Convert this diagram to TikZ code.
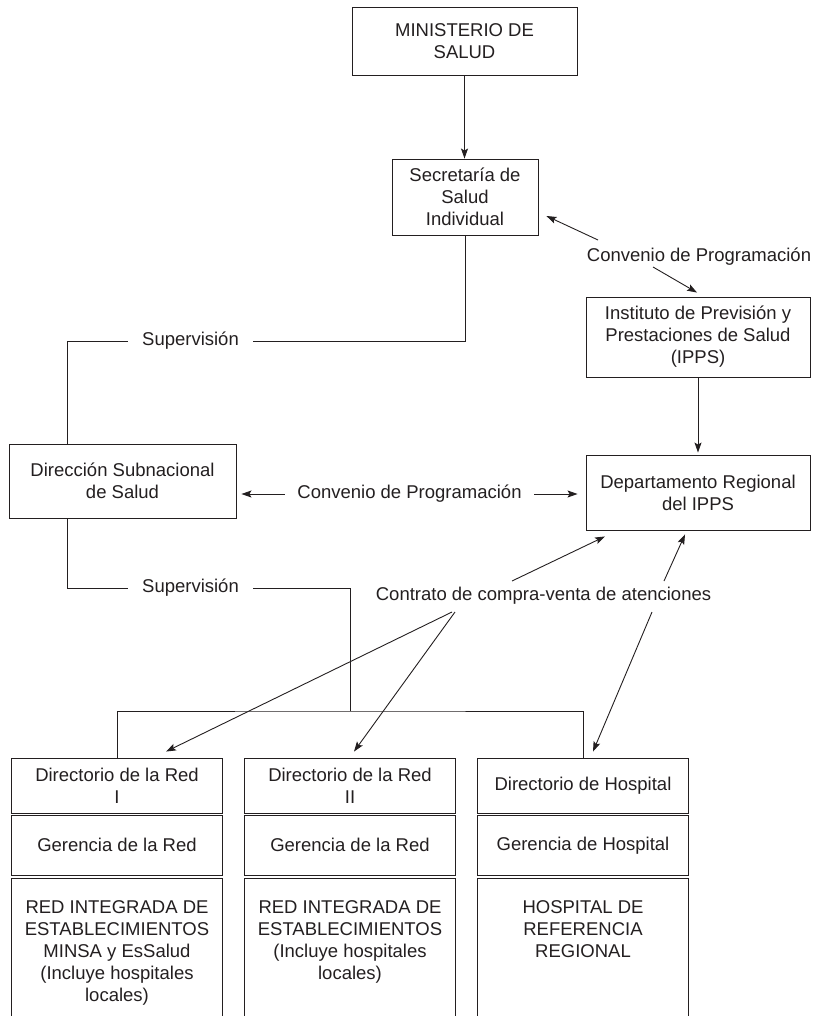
\documentclass[tikz,border=0pt]{standalone}
\usepackage{fontspec}
\setmainfont{Liberation Sans}
\usetikzlibrary{arrows.meta,calc}
\definecolor{ink}{HTML}{231F20}

\begin{document}
\begin{tikzpicture}[x=1pt, y=-1pt, ink, line width=0.9pt,
    font=\fontsize{18.5}{22}\selectfont,
    box/.style={draw, align=center, inner sep=0pt},
    lbl/.style={align=center, inner sep=0pt},
    arr/.style={-{Stealth[length=10pt, width=7pt, inset=2pt]}}]
    \useasboundingbox (0,0) rectangle (812,1016);
    \clip (0,0) rectangle (812,1016);

    \node[box, minimum width=225pt, minimum height=68pt] (min) at (464.5,41) {MINISTERIO DE\\SALUD};
    \node[box, minimum width=146pt, minimum height=76pt] (sec) at (465,197) {Secretaría de\\Salud\\Individual};
    \node[box, minimum width=224pt, minimum height=80pt] (ipps) at (698,337) {Instituto de Previsión y\\Prestaciones de Salud\\(IPPS)};
    \node[box, minimum width=227pt, minimum height=74pt] (dsn) at (122.5,481) {Dirección Subnacional\\de Salud};
    \node[box, minimum width=224pt, minimum height=75pt] (dep) at (698,492.5) {Departamento Regional\\del IPPS};

    \node[lbl, inner xsep=14pt] (supA) at (190.5,341) {Supervisión};
    \node[lbl, inner xsep=14pt] (supB) at (190.5,588) {Supervisión};
    \node[lbl] (convA) at (699,257) {Convenio de Programación};
    \node[lbl, inner xsep=12pt] (convB) at (409.5,494) {Convenio de Programación};
    \node[lbl] (cont) at (543.5,596) {Contrato de compra-venta de atenciones};

    \node[box, minimum width=211pt, minimum height=55pt] (dir1) at (117,785.5) {Directorio de la Red\\I};
    \node[box, minimum width=211pt, minimum height=59.5pt] (ger1) at (117,845.25) {Gerencia de la Red};
    \node[box, minimum width=211pt, minimum height=160pt, anchor=north] (net1) at (117,877.5) {};
    \node[lbl, anchor=north] (txt1) at ([yshift=-23pt]net1.north) {RED INTEGRADA DE\\ESTABLECIMIENTOS\\MINSA y EsSalud\\(Incluye hospitales\\locales)};

    \node[box, minimum width=211pt, minimum height=55pt] (dir2) at (350,785.5) {Directorio de la Red\\II};
    \node[box, minimum width=211pt, minimum height=59.5pt] (ger2) at (350,845.25) {Gerencia de la Red};
    \node[box, minimum width=211pt, minimum height=160pt, anchor=north] (net2) at (350,877.5) {};
    \node[lbl, anchor=north] (txt2) at ([yshift=-23pt]net2.north) {RED INTEGRADA DE\\ESTABLECIMIENTOS\\(Incluye hospitales\\locales)};

    \node[box, minimum width=211pt, minimum height=55pt] (dir3) at (583,785.5) {Directorio de Hospital};
    \node[box, minimum width=211pt, minimum height=59.5pt] (ger3) at (583,845.25) {Gerencia de Hospital};
    \node[box, minimum width=211pt, minimum height=160pt, anchor=north] (net3) at (583,877.5) {};
    \node[lbl, anchor=north] (txt3) at ([yshift=-23pt]net3.north) {HOSPITAL DE\\REFERENCIA\\REGIONAL};

    \coordinate (bus) at (350,711);

    \draw[arr] (min.south) -- (min.south |- sec.north);
    \draw (sec.south) |- (supA.east);
    \draw (supA.west) -| ($(dsn.north)+(-55.5,0)$);
    \draw ($(dsn.south)+(-55.5,0)$) |- (supB.west);
    \draw (supB.east) -| (bus);
    \draw (dir1.north) |- (bus) -| (dir3.north);
    \draw[arr, shorten >=2pt] (ipps.south) -- (dep.north);
    \draw[arr, shorten >=5pt] (convB.west) -- (dsn.east |- convB.west);
    \draw[arr, shorten >=8pt] (convB.east) -- (dep.west |- convB.east);
    \draw[arr] ($(convA)+(-101,-17)$) -- ($(sec.east)+(8,19)$);
    \draw[arr] ($(convA)+(-46,10)$) -- ($(ipps.north)+(-1,-4)$);
    \draw[arr] ($(cont)+(-31.5,-15)$) -- ($(dep.south)+(-93,6)$);
    \draw[arr] ($(cont)+(120.5,-15)$) -- ($(dep.south)+(-13,4)$);
    \draw[arr] ($(cont)+(-91.5,16)$) -- ($(dir1.north)+(49,-6)$);
    \draw[arr] ($(cont)+(-88.5,16)$) -- ($(dir2.north)+(4,-6)$);
    \draw[arr] ($(cont)+(108.5,16)$) -- ($(dir3.north)+(10,-6)$);
\end{tikzpicture}
\end{document}
